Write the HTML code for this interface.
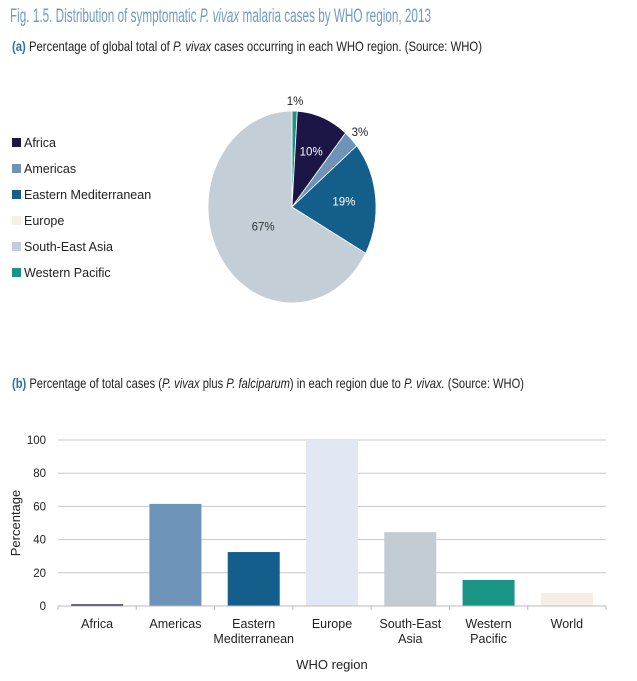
<!DOCTYPE html>
<html><head><meta charset="utf-8">
<style>
body{margin:0;background:#fff;width:637px;height:676px;overflow:hidden;font-family:"Liberation Sans",sans-serif;}
svg text{font-family:"Liberation Sans",sans-serif;}
</style></head>
<body>
<svg width="637" height="676">
<text x="10" y="22" font-size="19.5" fill="#6f9bc3" textLength="421" lengthAdjust="spacingAndGlyphs">Fig. 1.5. Distribution of symptomatic <tspan font-style="italic">P. vivax</tspan> malaria cases by WHO region, 2013</text>
<text x="12" y="51" font-size="14" fill="#222" textLength="470" lengthAdjust="spacingAndGlyphs"><tspan fill="#2a6fa8" font-weight="bold">(a)</tspan> Percentage of global total of <tspan font-style="italic">P. vivax</tspan> cases occurring in each WHO region. (Source: WHO)</text>
<g id="legend"></g>
<g id="pie"></g>
<text x="12" y="388" font-size="14" fill="#222" textLength="512" lengthAdjust="spacingAndGlyphs"><tspan fill="#2a6fa8" font-weight="bold">(b)</tspan> Percentage of total cases (<tspan font-style="italic">P. vivax</tspan> plus <tspan font-style="italic">P. falciparum</tspan>) in each region due to <tspan font-style="italic">P. vivax.</tspan> (Source: WHO)</text>
<g id="bars"></g>
<text x="0" y="0" transform="translate(20,523) rotate(-90)" text-anchor="middle" font-size="13" fill="#222">Percentage</text>
<text x="332" y="669" text-anchor="middle" font-size="13" fill="#222">WHO region</text>
</svg>
<script>
const NS='http://www.w3.org/2000/svg';
const legendNames=['Africa','Americas','Eastern Mediterranean','Europe','South-East Asia','Western Pacific'];
const legendColors=['#1c1646','#6d93b8','#145e8c','#f5f0e6','#c3ced7','#1a9484'];
// pie slices clockwise from top
const pieNames=['Western Pacific','Africa','Americas','Eastern Mediterranean','South-East Asia'];
const pieValues=[1,10,3,19,67];
const pieColors=['#1a9484','#1c1646','#6d93b8','#145e8c','#c3ced7'];
const pieLabels=['1%','10%','3%','19%','67%'];
// bar chart
const categories=['Africa','Americas','Eastern|Mediterranean','Europe','South-East|Asia','Western|Pacific','World'];
const barValues=[1,61.5,32.5,100,44.5,15.7,7.8];
const barColors=['#1c1646','#6d93b8','#145e8c','#e1e8f3','#c3ccd3','#1a9484','#f6eee2'];
const yTicks=[0,20,40,60,80,100];

function el(tag,attrs,parent){const e=document.createElementNS(NS,tag);for(const k in attrs)e.setAttribute(k,attrs[k]);parent.appendChild(e);return e;}

// legend
const lg=document.getElementById('legend');
legendNames.forEach((n,i)=>{
  const y=138+i*26;
  const r=el('rect',{x:12,y:y,width:9,height:9,fill:legendColors[i]},lg);
  
  
  const t=el('text',{x:24,y:y+9,'font-size':12.5,fill:'#222'},lg);
  t.textContent=n;
  
  
});

// pie
const pg=document.getElementById('pie');
const cx=292,cy=207,rx=84,ry=96;
const total=pieValues.reduce((a,b)=>a+b,0);
let acc=0;
pieValues.forEach((v,i)=>{
  const a0=acc/total*2*Math.PI; acc+=v; const a1=acc/total*2*Math.PI;
  const p=(a)=>[cx+rx*Math.sin(a),cy-ry*Math.cos(a)];
  const [x0,y0]=p(a0),[x1,y1]=p(a1);
  const large=(a1-a0)>Math.PI?1:0;
  const s=el('path',{d:`M${cx},${cy}L${x0},${y0}A${rx},${ry} 0 ${large} 1 ${x1},${y1}Z`,fill:pieColors[i],stroke:'#fff','stroke-width':0.8},pg);
  
  
  const am=(a0+a1)/2;
  let lx,ly,col;
  if(v<5){lx=cx+(rx+12)*Math.sin(am);ly=cy-(ry+10)*Math.cos(am)+4;col='#222';}
  else{const f=v>50?0.4:0.62;lx=cx+rx*f*Math.sin(am);ly=cy-ry*f*Math.cos(am)+4;col=v>50?'#333':'#fff';}
  const t=el('text',{x:lx,y:ly,'text-anchor':'middle','font-size':11.5,fill:col},pg);
  t.textContent=pieLabels[i];
  
  
});

// bars
const bg=document.getElementById('bars');
const x0=58,x1=606,yb=606,yt=440;
const band=(x1-x0)/categories.length, bw=52;
const ys=v=>yb-(v/100)*(yb-yt);
yTicks.forEach(t=>{
  const y=ys(t);
  if(t>0){const g=el('line',{x1:x0,x2:x1,y1:y,y2:y,stroke:'#c8c8c8','stroke-width':1},bg);
    }
  const tx=el('text',{x:46,y:y+4,'text-anchor':'end','font-size':11.5,fill:'#222'},bg);
  tx.textContent=t;
  
  
});
barValues.forEach((v,i)=>{
  const cxb=x0+band*(i+0.5);
  const r=el('rect',{x:cxb-bw/2,y:ys(v),width:bw,height:yb-ys(v),fill:barColors[i]},bg);
  
  
  const lines=categories[i].split('|');
  lines.forEach((ln,j)=>{
    const t=el('text',{x:cxb,y:628+j*15,'text-anchor':'middle','font-size':12.5,fill:'#222'},bg);
    t.textContent=ln;
    
    
  });
});
const ax=el('line',{x1:x0,x2:x1,y1:yb,y2:yb,stroke:'#bbb','stroke-width':1},bg);


for(let i=0;i<=categories.length;i++){
  const tk=el('line',{x1:x0+band*i,x2:x0+band*i,y1:yb,y2:yb+4,stroke:'#bbb'},bg);
  
  
}
</script>
</body></html>
